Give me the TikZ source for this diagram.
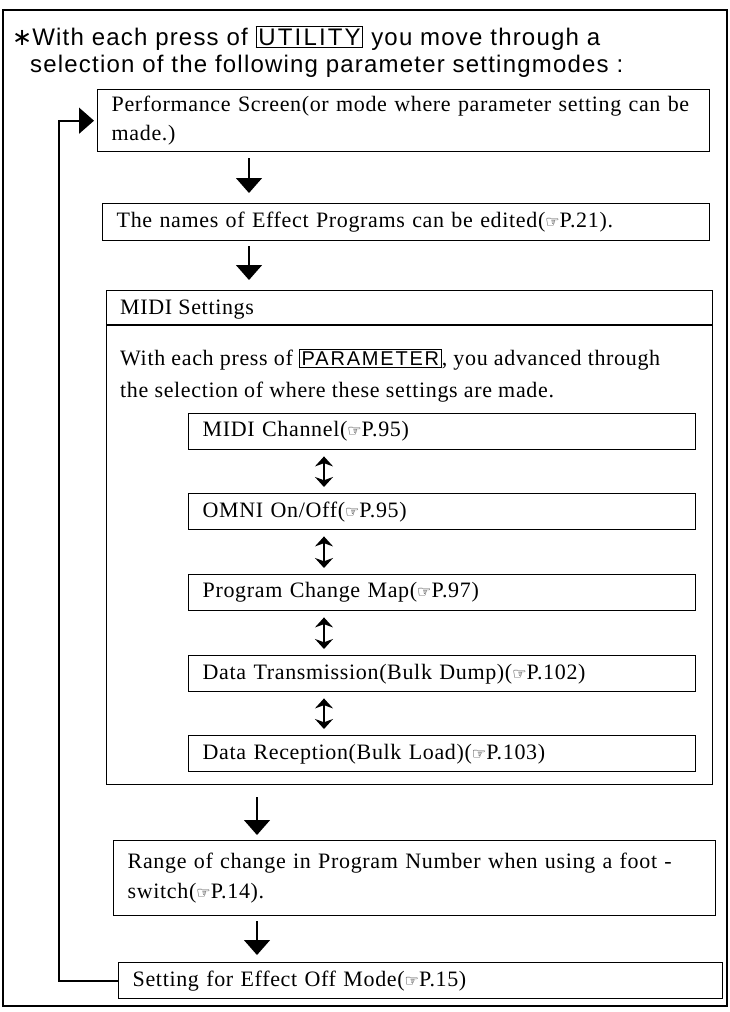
\documentclass[tikz,border=0pt]{standalone}
\usepackage{fontspec}
\setmainfont{Liberation Serif}[LetterSpace=3]
\newfontfamily\headfont[LetterSpace=5]{Liberation Sans}
\newfontfamily\keyfont[LetterSpace=9]{Liberation Sans}
\newfontfamily\symfont{DejaVu Sans}
\usepackage{tikz}
\usetikzlibrary{arrows.meta,positioning}
\newcommand{\keycap}[1]{{\setlength{\fboxsep}{1.5pt}\setlength{\fboxrule}{1.2pt}\fbox{\keyfont\vphantom{I}\smash{#1}}}}
\newcommand{\seepg}[1]{({\symfont\fontsize{16}{16}\selectfont ☞}#1)}

\begin{document}
\begin{tikzpicture}[x=1pt,y=-1pt]%
            \useasboundingbox (0,0) rectangle (730,1012); %%
            \tikzstyle{mode}=[draw,line width=1.4pt,anchor=north west,align=left,inner xsep=14pt,inner ysep=0pt,font=\fontsize{22}{29}\selectfont] %%
            \tikzstyle{flow}=[line width=1.5pt,-{Triangle[width=26pt,length=15pt]}] %%
            \tikzstyle{updown}=[line width=2pt,{Stealth[width=18pt,length=10pt]}-{Stealth[width=18pt,length=10pt]},shorten <=6pt,shorten >=6pt] %%
            \draw[line width=1.3pt] (3,10) rectangle (727,1006); %%
            \draw[line width=2.5pt] (3,10) -- (727,10); %%
            % heading
            \begin{scope}[font=\headfont\fontsize{24}{30}\selectfont,inner sep=0pt]
            \node[anchor=base west] (head1) at (12,45) {{\symfont ∗}With each press of \keycap{UTILITY} you move through a}; %%
            \node[anchor=base west] (head2) at (30,72) {selection of the following parameter settingmodes :}; %%
            \end{scope}
            % mode boxes
            \node[mode,text width=584pt,minimum height=62pt] (perf) at (97,89) {Performance Screen(or mode where parameter setting can be\\made.)}; %%
            \node[mode,text width=579pt,minimum height=37pt] (names) at (102,203) {The names of Effect Programs can be edited\seepg{P.21}.}; %%
            \node[mode,minimum width=606pt,minimum height=494pt] (midi) at (106,290) {}; %%
            \node[mode,text width=479pt,minimum height=36pt] (chan) at (188,413) {MIDI Channel\seepg{P.95}}; %%
            \node[mode,text width=479pt,minimum height=36pt] (omni) at (188,493) {OMNI On/Off\seepg{P.95}}; %%
            \node[mode,text width=479pt,minimum height=36pt] (pcmap) at (188,574) {Program Change Map\seepg{P.97}}; %%
            \node[mode,text width=479pt,minimum height=36pt] (trans) at (188,655) {Data Transmission(Bulk Dump)\seepg{P.102}}; %%
            \node[mode,text width=479pt,minimum height=36pt] (recv) at (188,735) {Data Reception(Bulk Load)\seepg{P.103}}; %%
            \node[mode,text width=574pt,minimum height=75pt,font=\fontsize{22}{30}\selectfont] (range) at (113,840) {Range of change in Program Number when using a foot -\\switch\seepg{P.14}.}; %%
            \node[mode,text width=576pt,minimum height=36pt] (offmode) at (118,962) {Setting for Effect Off Mode\seepg{P.15}}; %%
            % MIDI box heading
            \coordinate (sep) at (0,325); %%
            \draw[line width=1.2pt] (midi.west |- sep) -- (midi.east |- sep); %%
            \node[anchor=base west,inner sep=0pt,font=\fontsize{22}{29}\selectfont] (miditl) at (120,314) {MIDI Settings}; %%
            \node[anchor=north west,inner sep=0pt,align=left,font=\fontsize{22}{32}\selectfont] (midipara) at (120,349) {With each press of {\fontsize{20}{20}\selectfont\keycap{PARAMETER}}, you advanced through\\the selection of where these settings are made.}; %%
            % arrows
            \coordinate (col1) at (249,0); %%
            \coordinate (col2) at (257,0); %%
            \coordinate (colm) at (324,0); %%
            \coordinate (loop) at (59,0); %%
            \draw[flow,shorten <=6pt,shorten >=10pt] (perf.south -| col1) -- (names.north -| col1); %%
            \draw[flow,shorten <=5pt,shorten >=10pt] (names.south -| col1) -- (midi.north -| col1); %%
            \draw[updown] (chan.south -| colm) -- (omni.north -| colm); %%
            \draw[updown] (omni.south -| colm) -- (pcmap.north -| colm); %%
            \draw[updown] (pcmap.south -| colm) -- (trans.north -| colm); %%
            \draw[updown] (trans.south -| colm) -- (recv.north -| colm); %%
            \draw[flow,shorten <=12pt,shorten >=5pt] (midi.south -| col2) -- (range.north -| col2); %%
            \draw[flow,shorten <=5pt,shorten >=7pt] (range.south -| col2) -- (offmode.north -| col2); %%
            \draw[flow,line width=1.6pt,shorten >=3pt] (offmode.west) -- (offmode.west -| loop) -- (perf.west -| loop) -- (perf.west); %%
        \end{tikzpicture}
\end{document}
